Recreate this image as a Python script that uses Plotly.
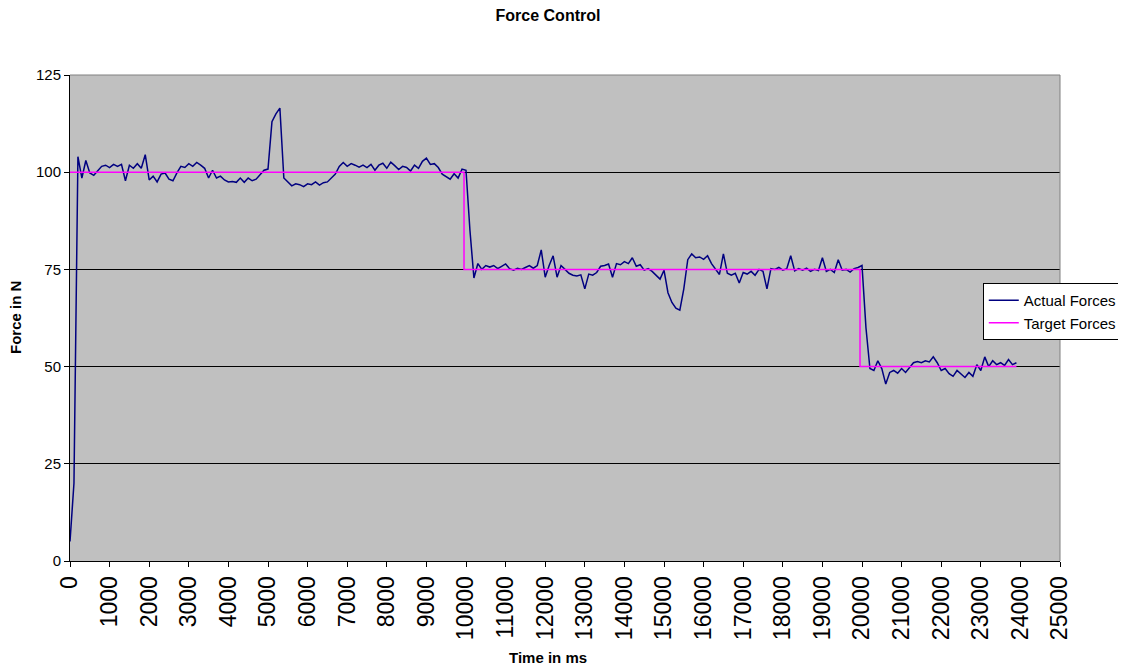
import plotly.graph_objects as go

# Actual force samples every 100 ms (0 .. 23900 ms)
actual_values = [
    5, 20, 104, 98.5, 103, 99.8, 99.2, 100.3, 101.5, 101.8,
    101.2, 102, 101.5, 102, 97.8, 101.8, 101, 102.2, 101, 104.5,
    98, 99, 97.5, 99.5, 99.8, 98.2, 97.8, 99.8, 101.5, 101.2,
    102.2, 101.5, 102.5, 101.8, 101, 98.5, 100.5, 98.5, 99, 98,
    97.5, 97.6, 97.4, 98.5, 97.4, 98.5, 97.8, 98.2, 99.5, 100.5,
    100.8, 113, 115, 116.5, 98.5, 97.5, 96.5, 97, 96.8, 96.3,
    97, 96.8, 97.5, 96.7, 97.3, 97.5, 98.5, 99.5, 101.5, 102.5,
    101.5, 102.2, 101.8, 101.3, 101.8, 101.2, 102, 100.5, 101.8, 102.3,
    101, 102.6, 101.7, 100.7, 101.5, 101.2, 100.3, 101.8, 101, 102.8,
    103.6, 102, 102.2, 101.2, 99.5, 98.8, 98.2, 99.6, 98.5, 100.8,
    100.5, 85, 72.8, 76.5, 75, 76, 75.6, 76, 75.2, 75.8,
    76.4, 75.2, 74.8, 75.3, 75, 75.5, 76, 75.3, 76, 80,
    73, 76, 78.5, 73, 76, 75, 74, 73.5, 73.3, 73.6,
    70, 73.8, 73.5, 74.2, 75.8, 76, 76.4, 73, 76.5, 76.2,
    77, 76.5, 78, 75.8, 76.2, 74.8, 75.2, 74.5, 73.5, 72.5,
    74.8, 69, 66.5, 65, 64.5, 70, 77.5, 79, 78, 78.2,
    77.6, 78.5, 76.5, 75, 73.7, 79, 74, 73.5, 74, 71.5,
    74.2, 73.8, 74.5, 73.5, 75, 74.5, 70, 75.2, 75, 75.5,
    74.8, 75.2, 78.5, 74.6, 75.2, 74.8, 75.3, 74.5, 75, 74.7,
    78, 74.5, 75, 74.2, 77.5, 74.8, 75, 74.3, 75.2, 75.5,
    76, 60, 49.5, 49, 51.5, 49.5, 45.5, 48.5, 49, 48.3,
    49.5, 48.5, 49.8, 51, 51.3, 51, 51.5, 51.2, 52.5, 51,
    49, 49.5, 48.2, 47.5, 49, 48, 47.2, 48.5, 47.5, 50.5,
    49, 52.5, 50, 51.5, 50.5, 51, 50.3, 51.8, 50.5, 51,
]
actual_times = list(range(0, 100 * len(actual_values), 100))

# Target force set-points (step changes)
target_times = [0, 9950, 9950, 19950, 19950, 23900]
target_values = [100, 100, 75, 75, 50, 50]

x_ticks = list(range(0, 25001, 1000))
y_ticks = [0, 25, 50, 75, 100, 125]

FIG_W, FIG_H = 1118, 661

fig = go.Figure()
fig.add_trace(go.Scatter(
    x=actual_times, y=actual_values, mode="lines", name="Actual Forces",
    line=dict(color="#000080", width=1.5),
))
fig.add_trace(go.Scatter(
    x=target_times, y=target_values, mode="lines", name="Target Forces",
    line=dict(color="#FF00FF", width=1.5),
))

fig.update_layout(
    width=FIG_W, height=FIG_H,
    margin=dict(l=62, r=66, t=67, b=108, autoexpand=False),
    paper_bgcolor="white",
    plot_bgcolor="#C0C0C0",
    font=dict(family="Arial, Liberation Sans, sans-serif", color="black"),
    title=dict(text="<b>Force Control</b>", x=540 / FIG_W, xanchor="center",
               y=1 - 7 / FIG_H, yanchor="middle", yref="container",
               font=dict(size=16, color="black")),
    showlegend=True,
    legend=dict(x=0.922, y=0.572, xanchor="left", yanchor="top",
                bgcolor="white", bordercolor="black", borderwidth=1,
                font=dict(size=15, color="black"),
                tracegroupgap=0, itemwidth=30),
    xaxis=dict(range=[0, 25000], tickvals=x_ticks,
               ticktext=[str(v) for v in x_ticks],
               tickangle=-90, tickfont=dict(size=23, color="black"),
               ticks="outside", ticklen=5, tickcolor="black",
               showline=True, linecolor="black", linewidth=1,
               showgrid=False, zeroline=False, mirror=False),
    yaxis=dict(range=[0, 125], tickvals=y_ticks,
               tickfont=dict(size=15, color="black"),
               ticks="outside", ticklen=5, tickcolor="black",
               showline=True, linecolor="black", linewidth=1,
               showgrid=True, gridcolor="black", gridwidth=1,
               zeroline=False),
    annotations=[
        dict(text="<b>Time in ms</b>", x=0.483, y=-(657 - 561) / 486,
             xref="paper", yref="paper", showarrow=False,
             xanchor="center", yanchor="middle", font=dict(size=15)),
        dict(text="<b>Force in N</b>", x=-(70 - 15) / 990, y=0.5,
             xref="paper", yref="paper", showarrow=False, textangle=-90,
             xanchor="center", yanchor="middle", font=dict(size=15)),
    ],
    shapes=[
        dict(type="line", xref="paper", yref="paper", x0=0, x1=1, y0=1, y1=1,
             line=dict(color="#808080", width=1)),
        dict(type="line", xref="paper", yref="paper", x0=1, x1=1, y0=0, y1=1,
             line=dict(color="#808080", width=1)),
    ],
)

fig.write_html("out.html")
